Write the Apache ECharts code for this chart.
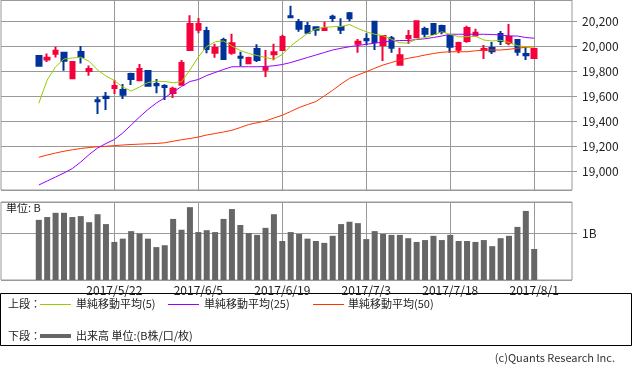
<!DOCTYPE html>
<html><head><meta charset="utf-8">
<script src="https://cdn.jsdelivr.net/npm/echarts@6/dist/echarts.min.js"></script>
<style>html,body{margin:0;padding:0;background:#fff}#c{width:633px;height:373px}</style>
</head><body><div id="c"></div>
<script>
const dates = ['2017/5/9','2017/5/10','2017/5/11','2017/5/12','2017/5/15','2017/5/16','2017/5/17','2017/5/18','2017/5/19','2017/5/22','2017/5/23','2017/5/24','2017/5/25','2017/5/26','2017/5/29','2017/5/30','2017/5/31',
'2017/6/1','2017/6/2','2017/6/5','2017/6/6','2017/6/7','2017/6/8','2017/6/9','2017/6/12','2017/6/13','2017/6/14','2017/6/15','2017/6/16','2017/6/19','2017/6/20','2017/6/21','2017/6/22','2017/6/23','2017/6/26','2017/6/27','2017/6/28','2017/6/29','2017/6/30',
'2017/7/3','2017/7/4','2017/7/5','2017/7/6','2017/7/7','2017/7/10','2017/7/11','2017/7/12','2017/7/13','2017/7/14','2017/7/18','2017/7/19','2017/7/20','2017/7/21','2017/7/24','2017/7/25','2017/7/26','2017/7/27','2017/7/28','2017/7/31','2017/8/1'];
const opens  = [19920,19893,19938,19946,19742,19952,19800,19566,19595,19664,19648,19776,19726,19800,19696,19680,19624,19690,19968,20130,20120,19946,20048,19946,19914,19862,19976,19810,19934,19968,20238,20192,20160,20150,20128,20234,20152,20262,20018,20056,20194,20008,20062,19850,20064,20070,20136,20176,20160,20080,19970,20040,20086,19968,19984,20096,20024,20048,19936,19904];
const closes = [19842,19906,19962,19882,19872,19912,19816,19558,19584,19680,19610,19736,19816,19682,19686,19672,19658,19864,20176,20176,19976,19984,19896,20022,19906,19904,19888,19830,19950,20072,20230,20138,20106,20130,20144,20224,20130,20222,20034,20046,20032,20080,19986,19926,20080,20198,20098,20096,20112,19994,20024,20144,20106,19976,19958,20040,20074,19954,19926,19976];
const lows   = [19834,19872,19909,19802,19734,19861,19762,19456,19488,19616,19576,19688,19718,19678,19622,19568,19584,19682,19960,20102,19942,19906,19888,19930,19838,19856,19872,19752,19886,19962,20230,20114,20102,20082,20120,20192,20096,20198,19946,20006,19968,19880,19946,19850,20016,20070,20070,20090,20094,19946,19942,20026,20074,19896,19936,20008,20006,19922,19888,19904];
const highs  = [19920,19941,19995,19950,19872,20000,19845,19595,19632,19728,19696,19786,19856,19802,19736,19694,19674,19888,20246,20224,20154,20018,20066,20098,19954,19914,20014,19968,20018,20090,20322,20216,20192,20150,20194,20250,20222,20272,20056,20102,20202,20088,20080,19986,20128,20198,20154,20184,20170,20080,20034,20162,20138,20008,20032,20120,20176,20056,19992,19976];
const volumes = [1.28,1.34,1.43,1.43,1.34,1.36,1.23,1.40,1.19,0.81,0.88,1.04,0.99,0.88,0.70,0.74,1.30,1.07,1.55,1.02,1.06,1.02,1.30,1.51,1.17,1.00,0.96,1.11,1.40,0.83,1.02,0.98,0.88,0.83,0.79,0.94,1.19,1.24,1.21,0.87,1.04,0.98,0.96,0.96,0.89,0.81,0.85,0.94,0.85,0.96,0.83,0.83,0.81,0.85,0.72,0.89,0.94,1.13,1.47,0.66];
const sma5  = [19542,19728,19834,19896,19904,19910,19878,19808,19760,19724,19672,19640,19672,19708,19718,19716,19706,19714,19808,19912,19996,20034,20040,20000,19964,19940,19924,19908,19894,19932,20000,20052,20100,20136,20150,20154,20156,20172,20140,20114,20094,20082,20054,20025,20024,20056,20067,20088,20114,20093,20074,20074,20079,20048,20040,20046,20028,20002,19994,19994];
const sma25 = [18888,18920,18952,18984,19020,19072,19132,19184,19220,19252,19304,19368,19432,19492,19544,19586,19632,19676,19716,19732,19764,19788,19812,19834,19834,19834,19834,19836,19842,19852,19868,19888,19908,19928,19948,19968,19982,19994,20004,20014,20022,20032,20040,20044,20044,20052,20058,20068,20080,20094,20094,20094,20094,20094,20092,20088,20080,20080,20068,20062];
const sma50 = [19110,19128,19144,19158,19170,19180,19188,19194,19198,19203,19208,19212,19215,19218,19220,19226,19238,19250,19260,19272,19288,19300,19312,19326,19348,19372,19386,19400,19424,19446,19476,19508,19532,19556,19600,19646,19696,19741,19768,19794,19822,19848,19868,19888,19902,19914,19928,19940,19950,19954,19954,19954,19962,19968,19968,19968,19974,19982,19990,19994];
const priceTicks = [19000,19200,19400,19600,19800,20000,20200];
const volumeTicks = [1];
const xLabels = ['2017/5/22','2017/6/5','2017/6/19','2017/7/3','2017/7/18','2017/8/1'];

const RED = '#f5003a', BLUE = '#003399', GRID = '#999999', TXT = '#222222';
const FONT = '"Noto Sans CJK JP", "Noto Sans", sans-serif';
const PAD = 4;
const padL = Array.from({length: PAD}, (_, i) => 'L' + i);
const padR = Array.from({length: PAD}, (_, i) => 'R' + i);
const cats = [...padL, ...dates, ...padR];
const pad = (arr, empty) => [...Array(PAD).fill(empty), ...arr, ...Array(PAD).fill(empty)];
const candleData = pad(dates.map((d, i) => [opens[i], closes[i], lows[i], highs[i]]), ['-','-','-','-']);
const showDate = (i, v) => xLabels.includes(v);

const chart = echarts.init(document.getElementById('c'), null, {renderer: 'canvas'});
const option = {
  animation: false,
  textStyle: {fontFamily: FONT},
  grid: [
    {left: 1, right: 61, top: 0, height: 190, show: true, borderColor: GRID, borderWidth: 1},
    {left: 1, right: 61, top: 202, height: 78, show: true, borderColor: GRID, borderWidth: 1}
  ],
  xAxis: [
    {type: 'category', gridIndex: 0, data: cats, boundaryGap: true,
     axisLine: {show: false}, axisTick: {show: false}, axisLabel: {show: false},
     splitLine: {show: true, alignWithLabel: true, interval: showDate, lineStyle: {color: GRID, width: 1}}},
    {type: 'category', gridIndex: 1, data: cats, boundaryGap: true,
     axisLine: {show: false}, axisTick: {show: false},
     axisLabel: {show: true, interval: showDate, fontSize: 12, color: TXT, margin: 4, fontFamily: FONT},
     splitLine: {show: true, alignWithLabel: true, interval: showDate, lineStyle: {color: GRID, width: 1}}}
  ],
  yAxis: [
    {type: 'value', gridIndex: 0, position: 'right', min: 18848, max: 20368, splitNumber: 8, minInterval: 200, maxInterval: 200,
     axisLine: {show: false}, axisTick: {show: true, length: 5, lineStyle: {color: GRID}},
     axisLabel: {margin: 10, fontSize: 12, color: TXT, fontFamily: FONT, showMinLabel: false, showMaxLabel: false,
       formatter: v => priceTicks.includes(v) ? v.toLocaleString('en-US') : ''},
     splitLine: {show: true, lineStyle: {color: GRID, width: 1}}},
    {type: 'value', gridIndex: 1, position: 'right', min: 0, max: 1.66, splitNumber: 1, minInterval: 1, maxInterval: 1,
     axisLine: {show: false}, axisTick: {show: true, length: 5, lineStyle: {color: GRID}},
     axisLabel: {margin: 10, fontSize: 12, color: TXT, fontFamily: FONT, showMinLabel: false, showMaxLabel: false,
       formatter: v => volumeTicks.includes(v) ? v + 'B' : ''},
     splitLine: {show: true, lineStyle: {color: GRID, width: 1}}}
  ],
  series: [
    {type: 'candlestick', xAxisIndex: 0, yAxisIndex: 0, data: candleData, barWidth: 5,
     itemStyle: {color: RED, color0: BLUE, borderColor: RED, borderColor0: BLUE, borderWidth: 2}},
    {type: 'line', xAxisIndex: 0, yAxisIndex: 0, data: pad(sma50, '-'), showSymbol: false, symbol: 'none',
     lineStyle: {color: '#ff3300', width: 1}, itemStyle: {color: '#ff3300'}},
    {type: 'line', xAxisIndex: 0, yAxisIndex: 0, data: pad(sma25, '-'), showSymbol: false, symbol: 'none',
     lineStyle: {color: '#9900ff', width: 1}, itemStyle: {color: '#9900ff'}},
    {type: 'line', xAxisIndex: 0, yAxisIndex: 0, data: pad(sma5, '-'), showSymbol: false, symbol: 'none',
     lineStyle: {color: '#99cc00', width: 1}, itemStyle: {color: '#99cc00'}},
    {type: 'bar', xAxisIndex: 1, yAxisIndex: 1, data: pad(volumes, '-'), barWidth: 6, itemStyle: {color: '#666666'}}
  ],
  graphic: [
    {type: 'text', left: 6, top: 202, style: {text: '単位: B', font: '11px ' + FONT, fill: TXT}},
    {type: 'rect', shape: {x: 0.5, y: 293.5, width: 631, height: 52}, style: {fill: 'none', stroke: '#000', lineWidth: 1}},
    {type: 'text', x: 8, y: 304, style: {text: '上段：', font: '11px ' + FONT, fill: TXT, verticalAlign: 'middle'}},
    {type: 'line', shape: {x1: 40, y1: 304.5, x2: 71, y2: 304.5}, style: {stroke: '#99cc00', lineWidth: 1}},
    {type: 'text', x: 76, y: 304, style: {text: '単純移動平均(5)', font: '11px ' + FONT, fill: TXT, verticalAlign: 'middle'}},
    {type: 'line', shape: {x1: 168, y1: 304.5, x2: 199, y2: 304.5}, style: {stroke: '#9900ff', lineWidth: 1}},
    {type: 'text', x: 204, y: 304, style: {text: '単純移動平均(25)', font: '11px ' + FONT, fill: TXT, verticalAlign: 'middle'}},
    {type: 'line', shape: {x1: 313, y1: 304.5, x2: 344, y2: 304.5}, style: {stroke: '#ff3300', lineWidth: 1}},
    {type: 'text', x: 348, y: 304, style: {text: '単純移動平均(50)', font: '11px ' + FONT, fill: TXT, verticalAlign: 'middle'}},
    {type: 'text', x: 8, y: 336, style: {text: '下段：', font: '11px ' + FONT, fill: TXT, verticalAlign: 'middle'}},
    {type: 'line', shape: {x1: 40, y1: 336, x2: 71, y2: 336}, style: {stroke: '#666666', lineWidth: 4}},
    {type: 'text', x: 76, y: 336, style: {text: '出来高 単位:(B株/口/枚)', font: '11px ' + FONT, fill: TXT, verticalAlign: 'middle'}},
    {type: 'text', x: 615, y: 358, style: {text: '(c)Quants Research Inc.', font: '11px ' + FONT, fill: '#333', align: 'right', verticalAlign: 'middle'}}
  ]
};
chart.setOption(option);
</script></body></html>
